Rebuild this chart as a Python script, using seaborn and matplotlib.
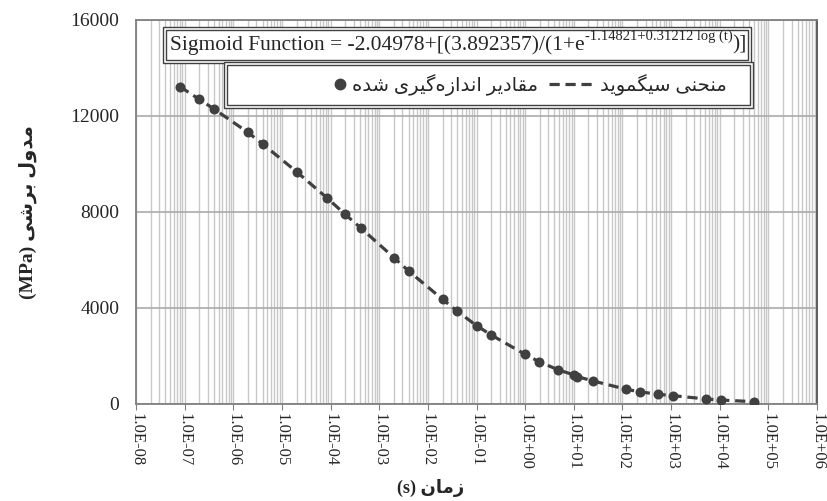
import numpy as np
import pandas as pd
import seaborn as sns
import matplotlib.pyplot as plt
from matplotlib.lines import Line2D
from matplotlib.patches import Rectangle
from matplotlib.ticker import LogLocator, FuncFormatter, NullFormatter
from matplotlib.legend_handler import HandlerLine2D

times = [8e-8, 2e-7, 4e-7, 2e-6, 4e-6, 2e-5, 8.3e-5, 2e-4, 4.2e-4, 2e-3, 4e-3,
         2e-2, 3.9e-2, 0.1, 0.2, 1.0, 1.95, 4.85, 10.2, 11.9, 25, 121, 226, 528,
         1120, 5200, 10400, 51000]
modulus = [13220, 12690, 12290, 11310, 10830, 9670, 8590, 7890, 7320, 6090, 5530,
           4350, 3870, 3250, 2860, 2050, 1740, 1400, 1190, 1120, 940, 590, 490, 385,
           325, 190, 145, 75]
y_ticks = [0, 4000, 8000, 12000, 16000]

df = pd.DataFrame({"t": times, "G": modulus})

# --- minimal persian shaping (matplotlib has no bidi / joining) ---
FORMS = {
    'ا': (0xFE8D, 0xFE8E), 'د': (0xFEA9, 0xFEAA), 'ر': (0xFEAD, 0xFEAE),
    'ز': (0xFEAF, 0xFEB0), 'و': (0xFEED, 0xFEEE),
    'ب': (0xFE8F, 0xFE90, 0xFE91, 0xFE92), 'ح': (0xFEA1, 0xFEA2, 0xFEA3, 0xFEA4),
    'س': (0xFEB1, 0xFEB2, 0xFEB3, 0xFEB4), 'ش': (0xFEB5, 0xFEB6, 0xFEB7, 0xFEB8),
    'ق': (0xFED5, 0xFED6, 0xFED7, 0xFED8), 'ل': (0xFEDD, 0xFEDE, 0xFEDF, 0xFEE0),
    'م': (0xFEE1, 0xFEE2, 0xFEE3, 0xFEE4), 'ن': (0xFEE5, 0xFEE6, 0xFEE7, 0xFEE8),
    'ه': (0xFEE9, 0xFEEA, 0xFEEB, 0xFEEC), 'ی': (0xFBFC, 0xFBFD, 0xFBFE, 0xFBFF),
    'گ': (0xFB92, 0xFB93, 0xFB94, 0xFB95),
}


def fa(text):
    out = []
    for i, c in enumerate(text):
        if c == '\u200c':
            continue
        if c not in FORMS:
            out.append(c)
            continue
        f = FORMS[c]
        prev = text[i - 1] if i > 0 else None
        nxt = text[i + 1] if i + 1 < len(text) else None
        jp = prev in FORMS and len(FORMS[prev]) == 4
        jn = len(f) == 4 and nxt in FORMS
        if jp and jn:
            g = f[3]
        elif jp:
            g = f[1]
        elif jn:
            g = f[2]
        else:
            g = f[0]
        out.append(chr(g))
    return ''.join(out)[::-1]


class RightMarker(HandlerLine2D):
    def create_artists(self, legend, orig_handle, xdescent, ydescent, width, height, fontsize, trans):
        return super().create_artists(legend, orig_handle, xdescent - 0.33 * width, ydescent,
                                      width, height, fontsize, trans)


sns.set_style("white")
plt.rcParams['font.family'] = ['Liberation Serif', 'DejaVu Sans']

AX_W, AX_H = 681, 383.5
fig = plt.figure(figsize=(8.27, 5.01), dpi=100)
ax = fig.add_axes([136 / 827, 97.5 / 501, AX_W / 827, AX_H / 501])

dark = '#404040'
sns.lineplot(data=df, x="t", y="G", ax=ax, color=dark, lw=2.3, zorder=3)
ax.lines[-1].set_linestyle((0, (3.2, 1.8)))
sns.scatterplot(data=df, x="t", y="G", ax=ax, color=dark, edgecolor=dark, s=52,
                linewidth=0, zorder=4)

ax.set_xscale('log')
ax.set_xlim(1e-8, 1e6)
ax.set_ylim(0, 16000)
ax.xaxis.set_major_locator(LogLocator(base=10, numticks=20))
ax.xaxis.set_minor_locator(LogLocator(base=10, subs=np.arange(2, 10), numticks=200))
ax.xaxis.set_major_formatter(FuncFormatter(lambda v, p: f"{v:.1E}"))
ax.xaxis.set_minor_formatter(NullFormatter())
ax.set_yticks(y_ticks)

ax.grid(True, which='both', axis='x', color='#c8c8c8', lw=1.0, zorder=0)
ax.grid(True, which='major', axis='y', color='#aaaaaa', lw=1.2, zorder=0)
ax.set_axisbelow(True)

for s in ax.spines.values():
    s.set_color('#808080')
    s.set_linewidth(1.3)
ax.spines['right'].set_color('#505050')

ax.tick_params(axis='x', which='major', labelsize=12, labelrotation=270, length=4,
               color='#808080', pad=3, bottom=True)
ax.tick_params(axis='x', which='minor', length=0)
ax.tick_params(axis='y', labelsize=14, length=0, pad=12)

ax.set_xlabel("(s) " + fa("زمان"), fontsize=13, fontweight='bold')
ax.xaxis.set_label_coords(0.432, -0.198)
ax.set_ylabel("(MPa) " + fa("مدول برشی"), fontsize=14, fontweight='bold', labelpad=24)


def double_box(x0, y0, x1, y1):
    dx, dy = 3 / AX_W, 3 / AX_H
    ax.add_patch(Rectangle((x0, y0), x1 - x0, y1 - y0, transform=ax.transAxes,
                           facecolor='white', edgecolor='#404040', lw=1.0, zorder=5))
    ax.add_patch(Rectangle((x0 + dx, y0 + dy), x1 - x0 - 2 * dx, y1 - y0 - 2 * dy,
                           transform=ax.transAxes, facecolor='none',
                           edgecolor='#404040', lw=1.0, zorder=5))


double_box(0.0396, 0.888, 0.903, 0.982)
double_box(0.129, 0.7705, 0.906, 0.8905)

# equation: main text + superscript + closing, chained
t1 = ax.text(0.050, 0.935, "Sigmoid Function = -2.04978+[(3.892357)/(1+e",
             transform=ax.transAxes, ha='left', va='center', fontsize=15.5, zorder=6)
t2 = ax.annotate("-1.14821+0.31212 log (t)", xy=(1, 0.62), xycoords=t1,
                 ha='left', va='bottom', fontsize=10.5, zorder=6)
t3 = ax.annotate(")]", xy=(1, 0), xycoords=(t2, t1), ha='left', va='bottom',
                 fontsize=15.5, zorder=6)

h_meas = Line2D([], [], marker='o', ls='none', color=dark, markersize=7.5)
h_fit = Line2D([], [], ls=(0, (3.2, 1.8)), lw=2.3, color=dark)
leg = ax.legend([h_meas, h_fit], [fa("مقادیر اندازه‌گیری شده"), fa("منحنی سیگموید")],
                ncol=2, loc='center', bbox_to_anchor=(0.555, 0.83), frameon=False,
                fontsize=14, handlelength=2.4, handletextpad=0.2, columnspacing=0.6,
                handler_map={h_meas: RightMarker()})
leg.set_zorder(7)

fig.savefig("out.png", dpi=100)
